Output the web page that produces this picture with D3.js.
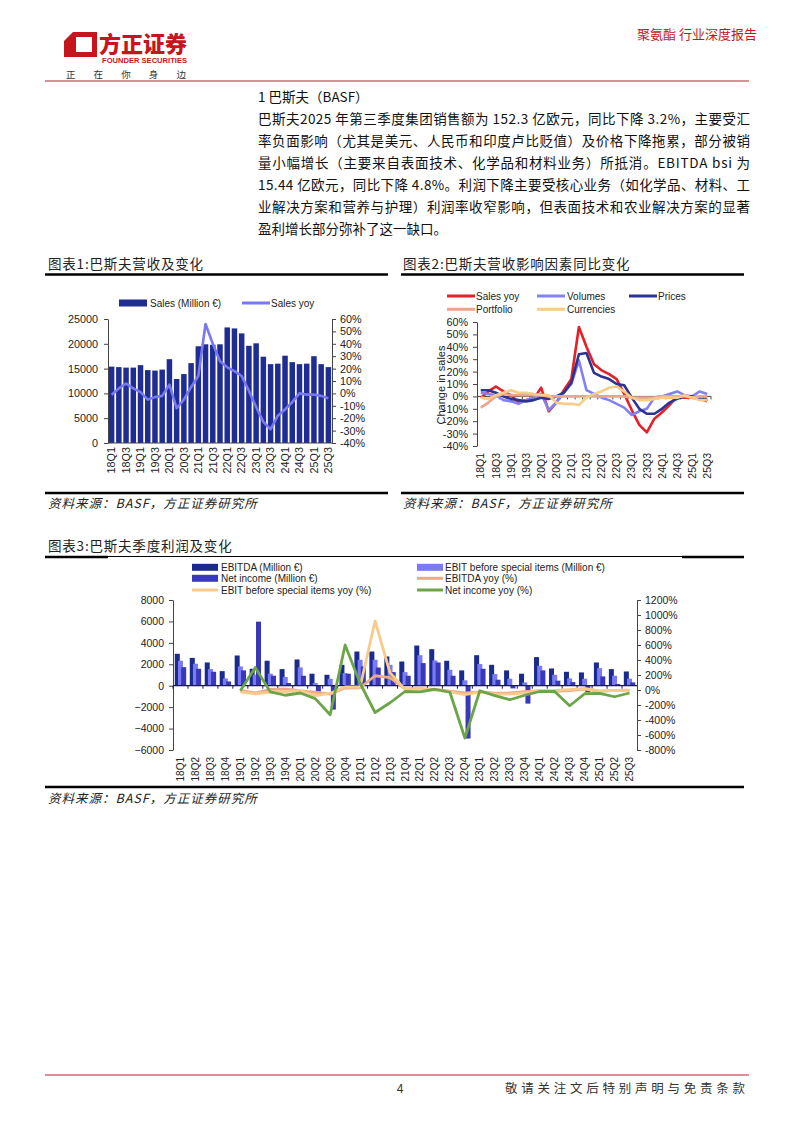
<!DOCTYPE html>
<html><head><meta charset="utf-8">
<script src="https://cdn.jsdelivr.net/npm/d3@7"></script>
<style>body{margin:0;background:#fff}svg{display:block}</style>
</head><body>
<svg id="page" width="794" height="1123"></svg>
<script>
// ---------------- DATA ----------------
const quarters = ["18Q1","18Q2","18Q3","18Q4","19Q1","19Q2","19Q3","19Q4","20Q1","20Q2","20Q3","20Q4","21Q1","21Q2","21Q3","21Q4","22Q1","22Q2","22Q3","22Q4","23Q1","23Q2","23Q3","23Q4","24Q1","24Q2","24Q3","24Q4","25Q1","25Q2","25Q3"];
// Chart 1
const salesM = [15400,15300,15200,15200,15700,14700,14600,14800,16900,12900,13900,16100,19500,19900,19800,19900,23300,23100,22100,19600,20100,17400,15900,16000,17600,16300,15900,16000,17500,15900,15300];
const salesYoy = [-1,4,8,4,1,-5,-3,-2,7,-12,-5,5,14,56,40,26,21,18,14,2,-11,-23,-29,-18,-13,-7,0,-1,-1,-2,-4];
const ticks1Left = [0,5000,10000,15000,20000,25000];
const ticks1Right = [-40,-30,-20,-10,0,10,20,30,40,50,60];
// Chart 2
const volumes = [3,2,1,-3,-4,-6,-3,-1,2,-11,-5,3,10,29,5,2,-1,-3,-6,-9,-15,-12,-10,-1,0,2,4,1,0,4,2];
const prices = [5,5,3,0,-2,-3,-4,-3,-1,-2,0,3,11,34,35,19,16,14,10,9,-1,-10,-14,-14,-10,-5,-2,0,0,-2,-2];
const portfolio = [-9,-5,0,2,1,1,1,1,1,0,0,0,0,0,0,0,0,0,0,0,-1,-1,-1,-1,0,0,0,0,-1,0,0];
const currencies = [-1,-2,1,3,5,3,3,2,1,1,-5,-6,-6,-7,-1,2,4,7,8,4,-1,-3,-3,-2,-1,-1,-1,1,-1,-3,-3];
const ticks2 = [-40,-30,-20,-10,0,10,20,30,40,50,60];
// Chart 3
const ebitda = [2980,2600,2170,1360,2820,1580,2330,1550,2450,1120,1020,1950,3190,3190,2730,2260,3750,3410,2330,1430,2850,1950,1430,1120,2670,1610,1300,1240,2170,1550,1330];
const ebitBsi = [2330,2050,1550,680,1800,1020,1120,810,1710,250,650,1180,2420,2420,1950,1270,2850,2360,1490,500,2020,1090,650,310,1860,1020,680,650,1640,930,650];
const netIncome = [1730,1580,1300,400,1430,5980,930,250,930,-560,-2230,1120,1800,1700,1270,930,2110,2170,930,-4930,1580,560,-250,-1670,1430,470,340,-600,870,160,310];
const ebitdaYoy = [null,null,null,null,-6,-40,7,14,-13,-30,-56,26,30,190,165,16,17,7,-15,-37,-24,-43,-39,-22,-7,-17,-9,11,-19,-4,-2];
const ebitBsiYoy = [null,null,null,null,-25,-50,-28,-20,-8,-76,-45,40,40,920,230,8,18,-2,-24,-61,-29,-54,-56,-38,-8,-6,5,20,-12,-9,-4];
const netIncomeYoy = [null,null,null,null,-10,300,-25,-70,-40,-115,-330,600,90,-300,-170,-20,-25,10,-30,-640,-10,-75,-130,-70,-20,-20,-210,-50,-45,-90,-40];
const ticks3Left = [-6000,-4000,-2000,0,2000,4000,6000,8000];
const ticks3Right = [-800,-600,-400,-200,0,200,400,600,800,1000,1200];

// ---------------- STYLE ----------------
const FONT = "'Liberation Sans', Arial, sans-serif";
const CJK = "'Noto Sans CJK SC', 'Noto Sans', sans-serif";
const RED = "#C4161C";
const svg = d3.select("#page");

// ---------------- HEADER ----------------
svg.append("path").attr("d","M64,41 L73,32 L97,32 L97,57 L64,57 Z").attr("fill",RED);
svg.append("path").attr("d","M76,37 L92,37 L92,52 L76,52 Z").attr("fill","#fff");
svg.append("text").attr("x",99).attr("y",52).attr("font-family",CJK).attr("font-weight",900)
  .attr("font-size",22).attr("fill",RED).attr("textLength",88).attr("lengthAdjust","spacingAndGlyphs").text("方正证券");
svg.append("text").attr("x",102).attr("y",63).attr("font-family",FONT).attr("font-weight","bold")
  .attr("font-size",7.5).attr("fill",RED).attr("textLength",85).attr("lengthAdjust","spacingAndGlyphs").text("FOUNDER SECURITIES");
svg.append("text").attr("x",66).attr("y",78).attr("font-family",CJK).attr("font-size",9.5).attr("fill","#333")
  .attr("textLength",120).attr("lengthAdjust","spacing").text("正在你身边");
svg.append("text").attr("x",637).attr("y",39).attr("font-family",CJK).attr("font-size",13).attr("fill",RED)
  .text("聚氨酯 行业深度报告");
svg.append("line").attr("x1",45).attr("x2",749).attr("y1",81).attr("y2",81).attr("stroke","#B8232F").attr("stroke-width",1);

// ---------------- PARAGRAPH ----------------
svg.append("text").attr("x",258).attr("y",102).attr("font-family",CJK).attr("font-size",13.5).attr("fill","#111")
  .text("1 巴斯夫（BASF）");
const paraLines = [
  "巴斯夫2025 年第三季度集团销售额为 152.3 亿欧元，同比下降 3.2%，主要受汇",
  "率负面影响（尤其是美元、人民币和印度卢比贬值）及价格下降拖累，部分被销",
  "量小幅增长（主要来自表面技术、化学品和材料业务）所抵消。EBITDA bsi 为",
  "15.44 亿欧元，同比下降 4.8%。利润下降主要受核心业务（如化学品、材料、工",
  "业解决方案和营养与护理）利润率收窄影响，但表面技术和农业解决方案的显著",
  "盈利增长部分弥补了这一缺口。"
];
paraLines.forEach((t,i)=>{
  const el = svg.append("text").attr("x",258).attr("y",124+i*22).attr("font-family",CJK)
    .attr("font-size",13.5).attr("fill","#111").text(t);
  if(i<paraLines.length-1) el.attr("textLength",492).attr("lengthAdjust","spacing");
});

// ---------------- helpers ----------------
function title(x,y,t){
  svg.append("text").attr("x",x).attr("y",y).attr("font-family",CJK).attr("font-size",13.5)
    .attr("fill","#222").attr("letter-spacing",0.8).text(t);
}
function source(x,y,t){
  svg.append("text").attr("x",x).attr("y",y).attr("font-family",CJK).attr("font-size",12.5)
    .attr("font-style","italic").attr("fill","#222").attr("letter-spacing",1).text(t);
}
function rule(x1,x2,y,w){
  svg.append("line").attr("x1",x1).attr("x2",x2).attr("y1",y).attr("y2",y).attr("stroke","#000").attr("stroke-width",w);
}
function styleAxis(g,size){
  g.selectAll("text").attr("font-family",FONT).attr("font-size",size).attr("fill","#222");
  g.selectAll("line").attr("stroke","#444");
  g.select(".domain").attr("stroke","#444");
}
function legendBox(x,y,w,h,color,label,tx){
  svg.append("rect").attr("x",x).attr("y",y-h/2).attr("width",w).attr("height",h).attr("fill",color);
  svg.append("text").attr("x",tx).attr("y",y).attr("dy","0.35em").attr("font-family",FONT).attr("font-size",10)
    .attr("fill","#222").text(label);
}
function legendLine(x,y,w,color,label,tx){
  svg.append("line").attr("x1",x).attr("x2",x+w).attr("y1",y).attr("y2",y).attr("stroke",color).attr("stroke-width",3);
  svg.append("text").attr("x",tx).attr("y",y).attr("dy","0.35em").attr("font-family",FONT).attr("font-size",10)
    .attr("fill","#222").text(label);
}

// ---------------- CHART 1 ----------------
title(48,269,"图表1:巴斯夫营收及变化");
rule(45,388,274.5,2.5);
rule(45,388,493,2.5);
source(48,508,"资料来源：BASF，方正证券研究所");

legendBox(119,303,28,7,"#1F2D92","Sales (Million €)",150);
legendLine(242,303,28,"#7878F0","Sales yoy",271);

const x1 = d3.scaleBand().domain(quarters).range([108,332]).paddingInner(0.24).paddingOuter(0.12);
const y1L = d3.scaleLinear().domain([0,25000]).range([443,319]);
const y1R = d3.scaleLinear().domain([-40,60]).range([443,319]);
const c1 = svg.append("g");
c1.selectAll("rect").data(salesM).join("rect")
  .attr("x",(d,i)=>x1(quarters[i])).attr("y",d=>y1L(d))
  .attr("width",x1.bandwidth()).attr("height",d=>y1L(0)-y1L(d)).attr("fill","#1F2D92");
const a1L = c1.append("g").attr("transform","translate(108,0)")
  .call(d3.axisLeft(y1L).tickValues(ticks1Left).tickSize(4).tickSizeOuter(0).tickPadding(6).tickFormat(d3.format("d")));
styleAxis(a1L,10.8);
const a1R = c1.append("g").attr("transform","translate(332,0)")
  .call(d3.axisRight(y1R).tickValues(ticks1Right).tickSize(4).tickSizeOuter(0).tickPadding(4).tickFormat(d=>d+"%"));
styleAxis(a1R,10.8);
c1.append("line").attr("x1",108).attr("x2",332).attr("y1",y1L(0)).attr("y2",y1L(0)).attr("stroke","#444");
c1.append("path").datum(salesYoy)
  .attr("d",d3.line().x((d,i)=>x1(quarters[i])+x1.bandwidth()/2).y(d=>y1R(d)))
  .attr("fill","none").attr("stroke","#7878F0").attr("stroke-width",2.6).attr("stroke-linejoin","round");
c1.selectAll("text.xl").data(quarters.filter((q,i)=>i%2===0)).join("text")
  .attr("transform",q=>`translate(${x1(q)+x1.bandwidth()/2},447) rotate(-90)`)
  .attr("text-anchor","end").attr("dy","0.35em").attr("font-family",FONT).attr("font-size",10.8).attr("fill","#222").text(q=>q);

// ---------------- CHART 2 ----------------
title(403,269,"图表2:巴斯夫营收影响因素同比变化");
rule(401,744,274.5,2.5);
rule(401,744,493,2.5);
source(403,508,"资料来源：BASF，方正证券研究所");

const series2 = [
  {name:"Sales yoy", values:salesYoy, color:"#E42027"},
  {name:"Volumes", values:volumes, color:"#8282F2"},
  {name:"Prices", values:prices, color:"#2C3392"},
  {name:"Portfolio", values:portfolio, color:"#EBA58E"},
  {name:"Currencies", values:currencies, color:"#F8CC86"}
];
legendLine(447,296,28,series2[0].color,"Sales yoy",476);
legendLine(537,296,28,series2[1].color,"Volumes",567);
legendLine(629,296,28,series2[2].color,"Prices",658);
legendLine(447,309.3,28,series2[3].color,"Portfolio",476);
legendLine(537,309.3,28,series2[4].color,"Currencies",567);

const x2 = d3.scaleBand().domain(quarters).range([477,711]);
const y2 = d3.scaleLinear().domain([-40,60]).range([446,322]);
const c2 = svg.append("g");
const a2 = c2.append("g").attr("transform","translate(477,0)")
  .call(d3.axisLeft(y2).tickValues(ticks2).tickSize(4).tickSizeOuter(0).tickPadding(5).tickFormat(d=>d+"%"));
styleAxis(a2,10.8);
c2.append("line").attr("x1",477).attr("x2",711).attr("y1",y2(0)).attr("y2",y2(0)).attr("stroke","#444");
c2.selectAll("line.tk").data(quarters).join("line")
  .attr("x1",q=>x2(q)+x2.bandwidth()).attr("x2",q=>x2(q)+x2.bandwidth())
  .attr("y1",y2(0)).attr("y2",y2(0)+3).attr("stroke","#444");
c2.append("text").attr("transform",`translate(441,385) rotate(-90)`).attr("text-anchor","middle")
  .attr("dy","0.35em").attr("font-family",FONT).attr("font-size",11).attr("fill","#222").text("Change in sales");
series2.forEach(s=>{
  c2.append("path").datum(s.values)
    .attr("d",d3.line().x((d,i)=>x2(quarters[i])+x2.bandwidth()/2).y(d=>y2(d)))
    .attr("fill","none").attr("stroke",s.color).attr("stroke-width",2.6).attr("stroke-linejoin","round");
});
c2.selectAll("text.xl").data(quarters.filter((q,i)=>i%2===0)).join("text")
  .attr("transform",q=>`translate(${x2(q)+x2.bandwidth()/2},453) rotate(-90)`)
  .attr("text-anchor","end").attr("dy","0.35em").attr("font-family",FONT).attr("font-size",10.5).attr("fill","#222").text(q=>q);

// ---------------- CHART 3 ----------------
title(48,551,"图表3:巴斯夫季度利润及变化");
rule(45,108,557,2.5);
rule(108,682,556.5,1);
rule(682,744,557,2.5);
rule(45,744,787,2.5);
source(48,803,"资料来源：BASF，方正证券研究所");

legendBox(192,567.3,26,7,"#1A2A8F","EBITDA (Million €)",221);
legendBox(192,578.3,26,7,"#3838B8","Net income (Million €)",221);
legendLine(192,590,26,"#F8CB8C","EBIT before special items yoy (%)",221);
legendBox(417,567.3,26,7,"#7A7AF4","EBIT before special items (Million €)",445);
legendLine(417,578.3,26,"#EDA98C","EBITDA yoy (%)",445);
legendLine(417,590,26,"#6BA547","Net income yoy (%)",445);

const x3 = d3.scaleBand().domain(quarters).range([173,637]).paddingInner(0.24).paddingOuter(0.12);
const y3L = d3.scaleLinear().domain([-6000,8000]).range([750,600]);
const y3R = d3.scaleLinear().domain([-800,1200]).range([750,600]);
const barKeys = ["ebitda","ebit","ni"];
const barData = {ebitda:ebitda, ebit:ebitBsi, ni:netIncome};
const barColor = {ebitda:"#1A2A8F", ebit:"#7A7AF4", ni:"#3838B8"};
const barW = 5;
const sub = d3.scalePoint().domain(barKeys).range([0, x3.bandwidth()-barW]);
const c3 = svg.append("g");
barKeys.forEach(k=>{
  c3.selectAll("rect."+k).data(barData[k]).join("rect").attr("class",k)
    .attr("x",(d,i)=>x3(quarters[i])+sub(k)).attr("width",barW)
    .attr("y",d=>Math.min(y3L(d),y3L(0))).attr("height",d=>Math.abs(y3L(d)-y3L(0)))
    .attr("fill",barColor[k]);
});
const a3L = c3.append("g").attr("transform","translate(173,0)")
  .call(d3.axisLeft(y3L).tickValues(ticks3Left).tickSize(4).tickSizeOuter(0).tickPadding(5).tickFormat(d3.format("d")));
styleAxis(a3L,10.5);
const a3R = c3.append("g").attr("transform","translate(637,0)")
  .call(d3.axisRight(y3R).tickValues(ticks3Right).tickSize(4).tickSizeOuter(0).tickPadding(4).tickFormat(d=>d+"%"));
styleAxis(a3R,10.5);
c3.append("line").attr("x1",173).attr("x2",637).attr("y1",y3L(0)).attr("y2",y3L(0)).attr("stroke","#1a1a50").attr("stroke-width",1.3);
c3.selectAll("line.tk").data(quarters).join("line")
  .attr("x1",q=>x3(q)-x3.step()*x3.paddingInner()/2).attr("x2",q=>x3(q)-x3.step()*x3.paddingInner()/2)
  .attr("y1",y3L(0)).attr("y2",y3L(0)+3).attr("stroke","#1a1a50");
const lines3 = [
  {values:ebitdaYoy, color:"#EDA98C"},
  {values:ebitBsiYoy, color:"#F8CB8C"},
  {values:netIncomeYoy, color:"#6BA547"}
];
lines3.forEach(s=>{
  c3.append("path").datum(s.values)
    .attr("d",d3.line().defined(d=>d!==null).x((d,i)=>x3(quarters[i])+x3.bandwidth()/2).y(d=>y3R(d)))
    .attr("fill","none").attr("stroke",s.color).attr("stroke-width",2.8).attr("stroke-linejoin","round");
});
c3.selectAll("text.xl").data(quarters).join("text")
  .attr("transform",q=>`translate(${x3(q)+x3.bandwidth()/2},757) rotate(-90)`)
  .attr("text-anchor","end").attr("dy","0.35em").attr("font-family",FONT).attr("font-size",10).attr("fill","#222").text(q=>q);

// ---------------- FOOTER ----------------
svg.append("line").attr("x1",45).attr("x2",749).attr("y1",1075).attr("y2",1075).attr("stroke","#B8232F").attr("stroke-width",1);
svg.append("text").attr("x",400).attr("y",1093).attr("text-anchor","middle").attr("font-family",FONT).attr("font-size",12).attr("fill","#333").text("4");
svg.append("text").attr("x",505).attr("y",1093).attr("font-family",CJK).attr("font-size",12.5).attr("fill","#333")
  .attr("textLength",240).attr("lengthAdjust","spacing").text("敬请关注文后特别声明与免责条款");
</script>
</body></html>
